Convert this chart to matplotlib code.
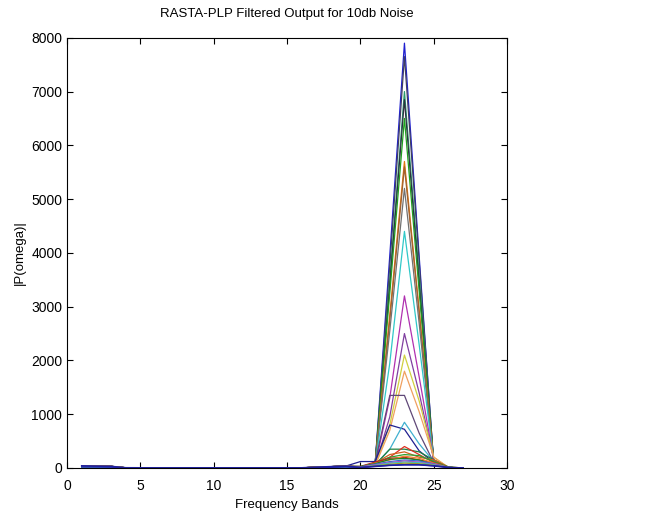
import numpy as np
import matplotlib.pyplot as plt

plt.rcParams['font.family'] = ['Liberation Sans', 'DejaVu Sans']

bands = list(range(1, 28))

# bands 1..19, nearly flat
base_a = [40, 35, 30, 4, 3, 2, 2, 2, 2, 2, 2, 2, 2, 2, 2, 3, 15, 25, 35]
base_b = [20, 18, 15, 2, 1, 1, 1, 1, 1, 1, 1, 1, 1, 1, 1, 2, 8, 12, 20]

# bands 20..27 for each frame
frames = [
    [20, 70, 3950, 7900, 3950, 60, 10, 0],
    [20, 60, 3750, 7650, 3850, 80, 10, 0],
    [15, 70, 3500, 7000, 3600, 90, 10, 0],
    [15, 60, 3400, 6850, 3450, 80, 10, 0],
    [15, 70, 3250, 6500, 3300, 80, 10, 0],
    [10, 60, 2850, 5700, 2950, 90, 10, 0],
    [10, 50, 2750, 5600, 2900, 100, 10, 0],
    [10, 60, 2550, 5200, 2700, 80, 10, 0],
    [10, 50, 1950, 4400, 2300, 120, 10, 0],
    [10, 40, 1300, 3200, 1700, 150, 10, 0],
    [10, 40, 950, 2500, 1400, 150, 10, 0],
    [10, 40, 800, 2100, 1250, 200, 10, 0],
    [10, 40, 700, 1800, 1050, 200, 10, 0],
    [10, 100, 1350, 1350, 650, 100, 10, 0],
    [120, 120, 800, 720, 320, 100, 10, 0],
    [10, 50, 350, 850, 450, 120, 10, 0],
    [10, 60, 350, 350, 300, 150, 10, 0],
    [20, 80, 200, 400, 250, 100, 10, 0],
    [20, 90, 250, 300, 200, 150, 20, 0],
    [20, 100, 200, 250, 230, 120, 20, 0],
    [30, 110, 180, 200, 150, 100, 10, 0],
    [20, 90, 150, 220, 180, 90, 10, 0],
    [30, 80, 160, 180, 150, 60, 10, 0],
    [20, 70, 120, 150, 130, 80, 10, 0],
    [20, 60, 100, 130, 110, 70, 10, 0],
    [10, 50, 90, 110, 100, 60, 10, 0],
    [10, 40, 70, 90, 80, 50, 10, 0],
    [10, 30, 50, 60, 60, 40, 10, 0],
]

colors = ['#1f1fd0', '#404060', '#2a9a70', '#303040', '#20a020', '#e07810',
          '#a06030', '#707070', '#30c8c8', '#b030b0', '#8040a0', '#d0d040',
          '#f0a060', '#604878', '#202090', '#40b0d0', '#208040', '#e03020',
          '#d06020', '#30a030', '#c02020', '#f08030', '#208020', '#3070d0',
          '#c040c0', '#40c0c0', '#a0a020', '#2020c0']

fig = plt.figure(figsize=(6.51, 5.14), dpi=100)
ax = fig.add_axes([0.103, 0.0895, 0.676, 0.837])

for i, f in enumerate(frames):
    base = base_a if i % 2 == 0 else base_b
    ax.plot(bands, base + f, color=colors[i % len(colors)], lw=0.9)
ax.plot(bands, base_a + frames[-1], color='#2020a0', lw=1.2)

ax.set_xlim(0, 30)
ax.set_ylim(0, 8000)
ax.set_xticks(range(0, 31, 5))
ax.set_yticks(range(0, 8001, 1000))
ax.tick_params(direction='in', top=True, right=True, length=4, labelsize=10)
ax.tick_params(axis='x', pad=8)
ax.set_title('RASTA-PLP Filtered Output for 10db Noise', fontsize=9.5, pad=15)
ax.set_xlabel('Frequency Bands', fontsize=9.5, labelpad=4)
ax.set_ylabel('|P(omega)|', fontsize=9.5)

fig.savefig('out.png', dpi=100)
